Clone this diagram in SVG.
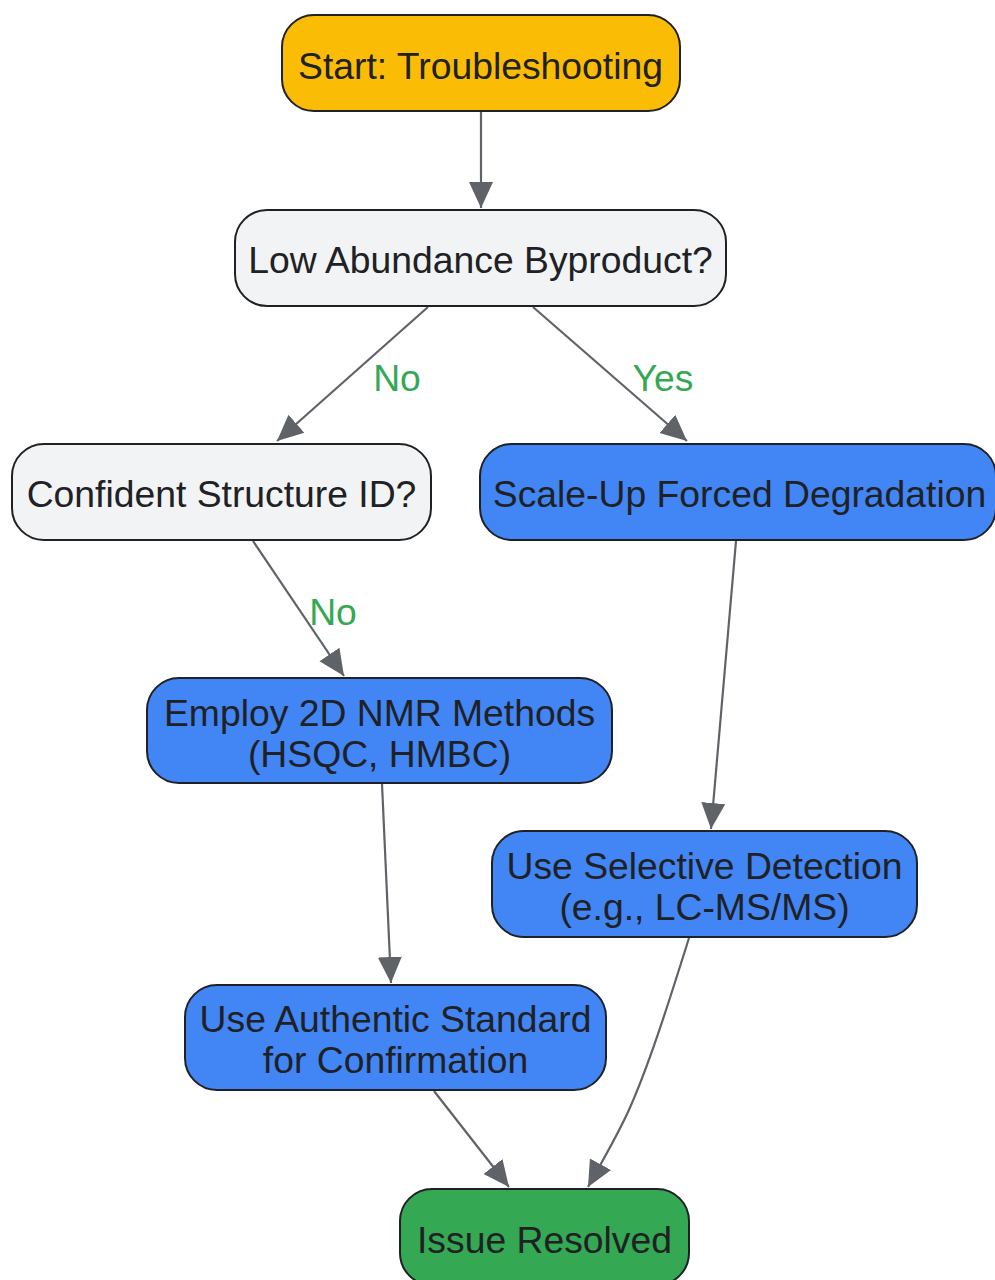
<svg xmlns="http://www.w3.org/2000/svg" width="995" height="1280" viewBox="0 0 995 1280">
<style>
.node rect{stroke:#202124;stroke-width:2}
.node text,.lbl{font-family:"Liberation Sans",Arial,sans-serif;font-size:37.3px;text-anchor:middle}
.node text{fill:#202124}
.lbl{fill:#34A853}
.start{fill:#FBBC05}
.dec{fill:#F1F3F4}
.act{fill:#4285F4}
.end{fill:#34A853}
.edge{fill:none;stroke:#5F6368;stroke-width:2.2;marker-end:url(#arr)}
</style>
<defs>
<marker id="arr" markerUnits="userSpaceOnUse" markerWidth="28" markerHeight="26" viewBox="0 0 28 26" refX="26" refY="13" orient="auto">
<path d="M0,1 L26,13 L0,25 Z" fill="#5F6368"/>
</marker>
</defs>
<g id="connectors">
<path class="edge" d="M481,111 L481,208"/>
<path class="edge" d="M428,307 L277,441"/>
<path class="edge" d="M533,307 L687,441"/>
<path class="edge" d="M253,541 L344,676"/>
<path class="edge" d="M736,541 L711,829"/>
<path class="edge" d="M382,784 L391,983"/>
<path class="edge" d="M689,938 C668,1005 648,1068 628,1112 C615,1140 600,1165 588,1187"/>
<path class="edge" d="M434,1091 L509,1187"/>
<text class="lbl" x="397" y="391">No</text>
<text class="lbl" x="663" y="391">Yes</text>
<text class="lbl" x="333" y="625">No</text>
</g>
<g id="start" class="node"><rect class="start" x="282" y="15" width="398" height="96" rx="32"/><text x="480.5" y="79">Start: Troubleshooting</text></g>
<g id="low" class="node"><rect class="dec" x="235" y="210" width="491" height="96" rx="32"/><text x="480.5" y="273">Low Abundance Byproduct?</text></g>
<g id="confident" class="node"><rect class="dec" x="12" y="444" width="419" height="96" rx="32"/><text x="221.5" y="507">Confident Structure ID?</text></g>
<g id="scaleup" class="node"><rect class="act" x="480" y="444" width="516" height="96" rx="32"/><text x="739.5" y="507">Scale-Up Forced Degradation</text></g>
<g id="nmr" class="node"><rect class="act" x="147" y="678" width="465" height="105" rx="32"/><text x="379.5" y="726">Employ 2D NMR Methods</text><text x="379.5" y="767">(HSQC, HMBC)</text></g>
<g id="selective" class="node"><rect class="act" x="492" y="831" width="425" height="106" rx="32"/><text x="704.5" y="879">Use Selective Detection</text><text x="704.5" y="920">(e.g., LC-MS/MS)</text></g>
<g id="authentic" class="node"><rect class="act" x="185" y="985" width="421" height="105" rx="32"/><text x="395.5" y="1032">Use Authentic Standard</text><text x="395.5" y="1073">for Confirmation</text></g>
<g id="resolved" class="node"><rect class="end" x="400" y="1189" width="289" height="96" rx="32"/><text x="544.5" y="1253">Issue Resolved</text></g>
</svg>
